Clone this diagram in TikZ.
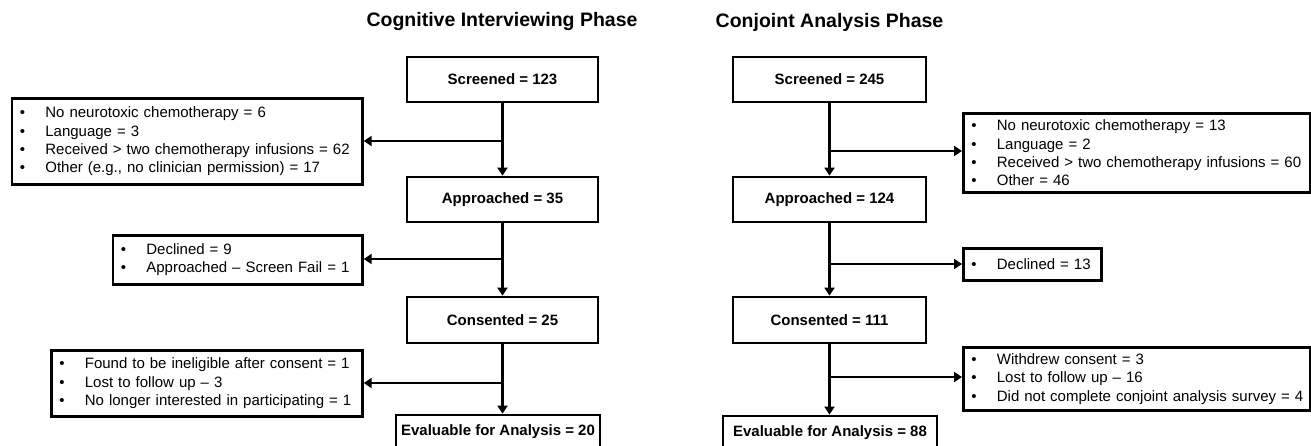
\documentclass[tikz,border=0pt]{standalone}
\usepackage{fontspec}
\setmainfont{Liberation Sans}
\usetikzlibrary{arrows.meta}

% bullet item: dot, then the text at a fixed indent, kept on one line
\newcommand\bitem[1]{\mbox{\makebox[25.5pt][l]{•}#1}}

\tikzset{
  stage/.style={draw, line width=2.7pt, minimum width=191pt, minimum height=45pt,
    inner sep=0pt, font=\fontsize{15}{18}\selectfont\bfseries},
  excl/.style={draw, line width=2.7pt, anchor=north west, inner xsep=8pt, inner ysep=0pt,
    align=left, font=\fontsize{15}{18.4}\selectfont},
  flow/.style={line width=2.7pt, -{Triangle[length=8pt,width=10pt]}},
  phase/.style={font=\fontsize{19.5}{22}\selectfont\bfseries, inner sep=0pt},
}

\begin{document}
\begin{tikzpicture}[x=1pt, y=-1pt]
\useasboundingbox[fill=white] (0,0) rectangle (1311,446);

% ---------- phase titles ----------
\node[phase] (t1) at (502,22) {Cognitive Interviewing Phase};
\node[phase] (t2) at (829.5,22) {Conjoint Analysis Phase};

% ---------- cognitive interviewing column ----------
\node[stage] (s1) at (502.5,79.5) {Screened = 123};
\node[stage] (a1) at (502.5,199.5) {Approached = 35};
\node[stage, minimum height=46pt] (c1) at (502.5,320) {Consented = 25};
\node[stage, minimum width=204pt, minimum height=34pt] (e1) at (498,432) {Evaluable for Analysis = 20};

\node[excl, minimum height=86pt, text width=334.5pt] (x1a) at (10.5,97) {%
  \bitem{No neurotoxic chemotherapy = 6}\\
  \bitem{Language = 3}\\
  \bitem{Received > two chemotherapy infusions = 62}\\
  \bitem{Other (e.g., no clinician permission) = 17}};
\node[excl, minimum height=49pt, text width=233.5pt] (x1b) at (111.5,234) {%
  \bitem{Declined = 9}\\
  \bitem{Approached – Screen Fail = 1}};
\node[excl, minimum height=66pt, text width=295pt] (x1c) at (50,349) {%
  \bitem{Found to be ineligible after consent = 1}\\
  \bitem{Lost to follow up – 3}\\
  \bitem{No longer interested in participating = 1}};

\coordinate (b1a) at (504,141);
\coordinate (b1b) at (503,259);
\coordinate (b1c) at (503,383);

\draw[flow] (s1) -- (a1);
\draw[flow] (a1) -- (c1);
\draw[flow] (c1.south) -- (c1.south |- e1.north);
\draw[flow] (b1a) -- (x1a.east |- b1a);
\draw[flow] (b1b) -- (x1b.east |- b1b);
\draw[flow] (b1c) -- (x1c.east |- b1c);

% ---------- conjoint analysis column ----------
\node[stage, minimum width=193pt] (s2) at (829.5,79.5) {Screened = 245};
\node[stage, minimum width=193pt] (a2) at (829.5,199.5) {Approached = 124};
\node[stage, minimum width=193pt, minimum height=46pt] (c2) at (829.5,320) {Consented = 111};
\node[stage, minimum width=214pt, minimum height=33pt] (e2) at (830,432.5) {Evaluable for Analysis = 88};

\node[excl, minimum height=79pt, text width=330.5pt] (x2a) at (962,112) {%
  \bitem{No neurotoxic chemotherapy = 13}\\
  \bitem{Language = 2}\\
  \bitem{Received > two chemotherapy infusions = 60}\\
  \bitem{Other = 46}};
\node[excl, minimum height=32pt, text width=122pt] (x2b) at (962,247) {%
  \bitem{Declined = 13}};
\node[excl, minimum height=63pt, text width=330.5pt] (x2c) at (962,346) {%
  \bitem{Withdrew consent = 3}\\
  \bitem{Lost to follow up – 16}\\
  \bitem{Did not complete conjoint analysis survey = 4}};

\coordinate (b2a) at (829.5,151);
\coordinate (b2b) at (829.5,264);
\coordinate (b2c) at (829.5,377);

\draw[flow] (s2) -- (a2);
\draw[flow] (a2) -- (c2);
\draw[flow] (c2.south) -- (c2.south |- e2.north);
\draw[flow] (b2a) -- (x2a.west |- b2a);
\draw[flow] (b2b) -- (x2b.west |- b2b);
\draw[flow] (b2c) -- (x2c.west |- b2c);
\end{tikzpicture}
\end{document}
